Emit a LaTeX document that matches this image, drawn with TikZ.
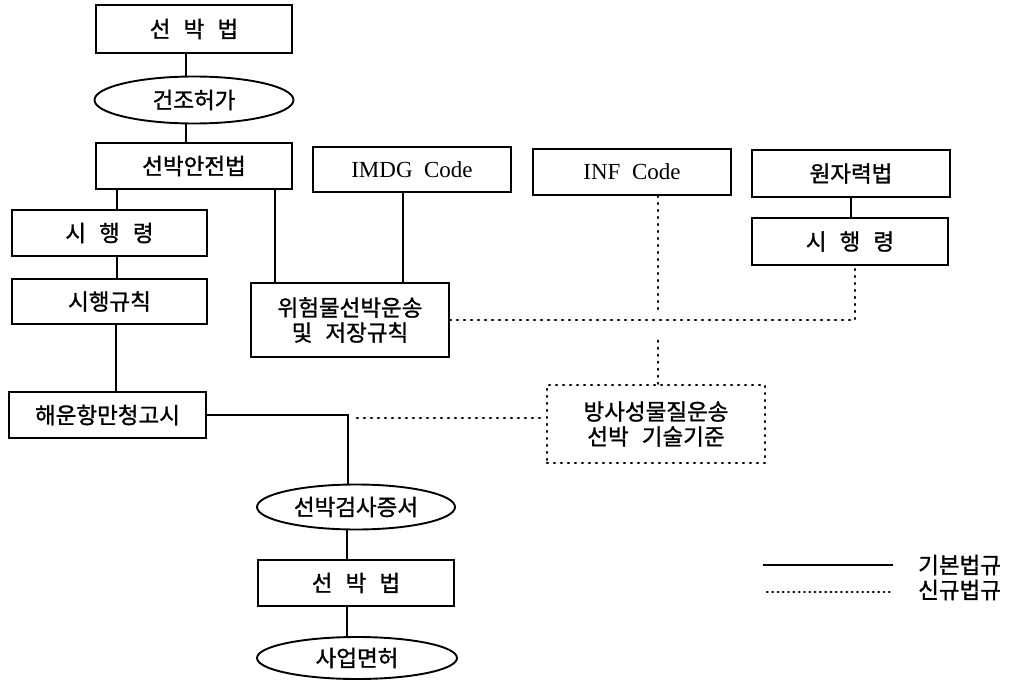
\documentclass[tikz,border=0pt]{standalone}
\usepackage{fontspec}
\newfontfamily\kr[WordSpace=2.6, FakeBold=1.2]{Noto Sans CJK KR}
\newfontfamily\lat[WordSpace=2]{Liberation Serif}
\usetikzlibrary{shapes.geometric}
\begin{document}
\begin{tikzpicture}[x=1pt,y=-1pt,
  every node/.style={inner sep=0pt, font=\kr\fontsize{22.5}{25}\selectfont, align=center},
  box/.style={draw, line width=2.1pt, rectangle},
  oval/.style={draw, line width=1.9pt, ellipse},
  solidln/.style={line width=2.1pt},
  dotln/.style={line width=2.6pt, line cap=round, dash pattern=on 0.9pt off 6.1pt}]
\useasboundingbox (0,0) rectangle (1014,682);
\fill[white] (0,0) rectangle (1014,682);

% left column
\node[box, minimum width=196pt, minimum height=48pt] (b1) at (194,29) {선 박 법};
\node[oval, minimum width=199pt, minimum height=47pt] (e1) at (194,100) {건조허가};
\node[box, minimum width=196pt, minimum height=46pt] (b2) at (194,166) {선박안전법};
\node[box, minimum width=195pt, minimum height=46pt] (sr1) at (109.5,233) {시 행 령};
\node[box, minimum width=195pt, minimum height=45pt] (sg) at (109.5,301.5) {시행규칙};
\node[box, minimum width=197pt, minimum height=46pt] (hu) at (107.5,415) {해운항만청고시};

% top row
\node[box, minimum width=198pt, minimum height=45pt, font=\lat\fontsize{23}{26}\selectfont] (imdg) at (412,169.5) {IMDG Code};
\node[box, minimum width=198pt, minimum height=46pt, font=\lat\fontsize{23}{26}\selectfont] (inf) at (632,172) {INF Code};
\node[box, minimum width=198pt, minimum height=47pt] (atom) at (851,173.5) {원자력법};
\node[box, minimum width=196pt, minimum height=47pt] (sr2) at (850,241.5) {시 행 령};

% middle
\node[box, minimum width=198pt, minimum height=74pt] (wh) at (350,320) {위험물선박운송\\및 저장규칙};
\node[draw, dotln, minimum width=218pt, minimum height=78pt] (rad) at (656,424) {방사성물질운송\\선박 기술기준};

% bottom
\node[oval, minimum width=198pt, minimum height=45pt] (e2) at (356,507) {선박검사증서};
\node[box, minimum width=196pt, minimum height=46pt] (b3) at (356,583) {선 박 법};
\node[oval, minimum width=200pt, minimum height=42pt] (e3) at (357,658) {사업면허};

% solid connectors
\draw[solidln] ([xshift=-8pt]b1.south) -- ([xshift=-8pt]e1.north);
\draw[solidln] ([xshift=-8pt]e1.south) -- ([xshift=-8pt]b2.north);
\draw[solidln] ([xshift=-77pt]b2.south) -- ([xshift=7.5pt]sr1.north);
\draw[solidln] ([xshift=81pt]b2.south) -- ([xshift=-75pt]wh.north);
\draw[solidln] ([xshift=-9pt]imdg.south) -- ([xshift=53pt]wh.north);
\draw[solidln] ([xshift=7.5pt]sr1.south) -- ([xshift=7.5pt]sg.north);
\draw[solidln] ([xshift=6.5pt]sg.south) -- ([xshift=8.5pt]hu.north);
\draw[solidln] (hu.east) -| ([xshift=-8pt]e2.north);
\draw[solidln] ([xshift=-9pt]e2.south) -- ([xshift=-9pt]b3.north);
\draw[solidln] ([xshift=-9pt]b3.south) -- ([xshift=-10pt]e3.north);
\draw[solidln] ([xshift=0pt]atom.south) -- ([xshift=1pt]sr2.north);

% dotted connectors
\draw[dotln] ([xshift=26pt]inf.south) -- ++(0,115);
\draw[dotln] ([xshift=2pt]rad.north) -- ++(0,-48);
\draw[dotln] (wh.east) -| ([xshift=5pt]sr2.south);
\coordinate (d1) at (357,418);
\draw[dotln] (d1) -- (d1 -| rad.west);

% legend
\coordinate (l1a) at (763,565);
\coordinate (l1b) at (893,565);
\coordinate (l2a) at (767,592);
\coordinate (l2b) at (893,592);
\draw[solidln] (l1a) -- (l1b);
\draw[dotln, line width=2.2pt, dash pattern=on 0.7pt off 4.6pt] (l2a) -- (l2b);
\node[anchor=west] (lg1) at (918,565) {기본법규};
\node[anchor=west] (lg2) at (918,590) {신규법규};
\end{tikzpicture}
\end{document}
